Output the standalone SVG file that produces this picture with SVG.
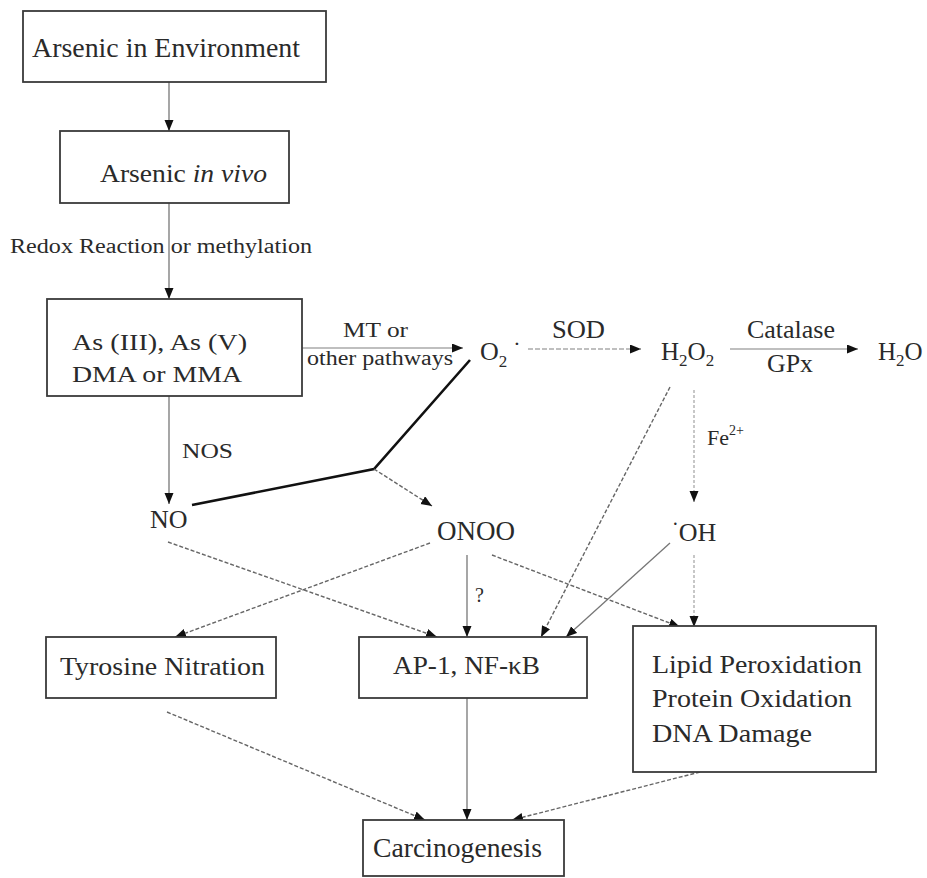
<svg xmlns="http://www.w3.org/2000/svg" width="927" height="878" viewBox="0 0 927 878">
<defs>
<style>
.box{fill:#fff;stroke:#3a3a3a;stroke-width:1.8}
.t{font-family:"Liberation Serif","Times New Roman",serif;fill:#2a2a2a}
.c{fill:none;stroke:#777;stroke-width:1.3}
.d{fill:none;stroke:#666;stroke-width:1.4;stroke-dasharray:4 2}
.l{fill:none;stroke:#aaa;stroke-width:1.3}
.thick{fill:none;stroke:#111;stroke-width:2.6;stroke-linejoin:miter}
</style>
<marker id="ah" markerUnits="userSpaceOnUse" markerWidth="12" markerHeight="10" refX="11" refY="4.5" orient="auto">
<path d="M0,0 L11,4.5 L0,9 z" fill="#111"/>
</marker>
</defs>
<rect width="927" height="878" fill="#fff"/>

<g id="connectors">
<path class="c" d="M169,82 L169,131" marker-end="url(#ah)"/>
<path class="c" d="M169,203 L169,299" marker-end="url(#ah)"/>
<path class="l" d="M302,348 L463,348" marker-end="url(#ah)"/>
<path class="thick" d="M470,360 L374,469 L192,505"/>
<path class="d" d="M374,469 L432,506" marker-end="url(#ah)"/>
<path class="c" d="M169,396 L169,504" marker-end="url(#ah)"/>
<path class="l" d="M528,349 L641,349" stroke-dasharray="5 2" marker-end="url(#ah)"/>
<path class="l" d="M730,349 L858,349" marker-end="url(#ah)"/>
<path class="d" d="M670,387 L541,637" marker-end="url(#ah)"/>
<path class="l" d="M694,390 L694,502" stroke-dasharray="3 2" marker-end="url(#ah)"/>
<path class="c" d="M670,543 L566,637" marker-end="url(#ah)"/>
<path class="l" d="M694,555 L694,627" stroke-dasharray="3 2" marker-end="url(#ah)"/>
<path class="c" d="M467,555 L467,637" marker-end="url(#ah)"/>
<path class="d" d="M492,555 L680,627" marker-end="url(#ah)"/>
<path class="d" d="M430,543 L175,637" marker-end="url(#ah)"/>
<path class="d" d="M168,542 L437,637" marker-end="url(#ah)"/>
<path class="d" d="M167,712 L425,820" marker-end="url(#ah)"/>
<path class="c" d="M467,698 L467,820" marker-end="url(#ah)"/>
<path class="d" d="M700,772 L512,820" marker-end="url(#ah)"/>
</g>

<g id="n-env">
<rect class="box" x="23" y="11" width="303" height="71"/>
<text class="t" x="32" y="57" font-size="27" textLength="268" lengthAdjust="spacingAndGlyphs">Arsenic in Environment</text>
</g>

<g id="n-invivo">
<rect class="box" x="60" y="131" width="229" height="72"/>
<text class="t" x="100" y="182" font-size="26" textLength="167" lengthAdjust="spacingAndGlyphs">Arsenic <tspan font-style="italic">in vivo</tspan></text>
</g>

<g id="l-redox">
<text class="t" x="10" y="253" font-size="20" textLength="302" lengthAdjust="spacingAndGlyphs" fill="#444">Redox Reaction or methylation</text>
</g>

<g id="n-as">
<rect class="box" x="47" y="299" width="255" height="97"/>
<text class="t" x="72" y="350" font-size="24" textLength="175" lengthAdjust="spacingAndGlyphs">As (III), As (V)</text>
<text class="t" x="72" y="382" font-size="24" textLength="170" lengthAdjust="spacingAndGlyphs">DMA or MMA</text>
</g>

<g id="l-mt">
<text class="t" x="343" y="337" font-size="21" textLength="65" lengthAdjust="spacingAndGlyphs" fill="#444">MT or</text>
<text class="t" x="307" y="365" font-size="20" textLength="146" lengthAdjust="spacingAndGlyphs" fill="#555">other pathways</text>
</g>

<g id="n-o2">
<text class="t" x="480" y="360" font-size="26">O<tspan font-size="17" dy="7">2</tspan><tspan font-size="22" dy="-16" dx="6">·</tspan></text>
</g>

<g id="l-sod">
<text class="t" x="552" y="338" font-size="25" textLength="53" lengthAdjust="spacingAndGlyphs" fill="#444">SOD</text>
</g>

<g id="n-h2o2">
<text class="t" x="661" y="360" font-size="25" fill="#444">H<tspan font-size="17" dy="6">2</tspan><tspan dy="-6">O</tspan><tspan font-size="17" dy="6">2</tspan></text>
</g>

<g id="l-catalase">
<text class="t" x="747" y="338" font-size="25" textLength="88" lengthAdjust="spacingAndGlyphs" fill="#555">Catalase</text>
<text class="t" x="767" y="372" font-size="25" textLength="46" lengthAdjust="spacingAndGlyphs" fill="#444">GPx</text>
</g>

<g id="n-h2o">
<text class="t" x="878" y="360" font-size="25" fill="#444">H<tspan font-size="17" dy="6">2</tspan><tspan dy="-6">O</tspan></text>
</g>

<g id="l-nos">
<text class="t" x="182" y="458" font-size="22" textLength="51" lengthAdjust="spacingAndGlyphs" fill="#444">NOS</text>
</g>

<g id="l-fe">
<text class="t" x="707" y="445" font-size="22" fill="#444">Fe<tspan font-size="14" dy="-10">2+</tspan></text>
</g>

<g id="n-no">
<text class="t" x="150" y="528" font-size="26" fill="#444">NO</text>
</g>

<g id="n-onoo">
<text class="t" x="437" y="540" font-size="27" textLength="78" lengthAdjust="spacingAndGlyphs" fill="#444">ONOO</text>
</g>

<g id="n-oh">
<text class="t" x="672" y="541" font-size="26" fill="#444"><tspan font-size="20" dy="-10">·</tspan><tspan dy="10">OH</tspan></text>
</g>

<g id="l-q">
<text class="t" x="475" y="602" font-size="20" fill="#777">?</text>
</g>

<g id="n-tyr">
<rect class="box" x="46" y="637" width="230" height="61"/>
<text class="t" x="60" y="675" font-size="26" textLength="205" lengthAdjust="spacingAndGlyphs">Tyrosine Nitration</text>
</g>

<g id="n-ap1">
<rect class="box" x="359" y="637" width="228" height="61"/>
<text class="t" x="393" y="674" font-size="26" textLength="147" lengthAdjust="spacingAndGlyphs">AP-1, NF-κB</text>
</g>

<g id="n-lipid">
<rect class="box" x="633" y="626" width="243" height="146"/>
<text class="t" x="652" y="673" font-size="26" textLength="210" lengthAdjust="spacingAndGlyphs">Lipid Peroxidation</text>
<text class="t" x="652" y="707" font-size="26" textLength="200" lengthAdjust="spacingAndGlyphs">Protein Oxidation</text>
<text class="t" x="652" y="742" font-size="26" textLength="160" lengthAdjust="spacingAndGlyphs">DNA Damage</text>
</g>

<g id="n-carc">
<rect class="box" x="363" y="820" width="201" height="56"/>
<text class="t" x="373" y="857" font-size="27" textLength="169" lengthAdjust="spacingAndGlyphs">Carcinogenesis</text>
</g>
</svg>
